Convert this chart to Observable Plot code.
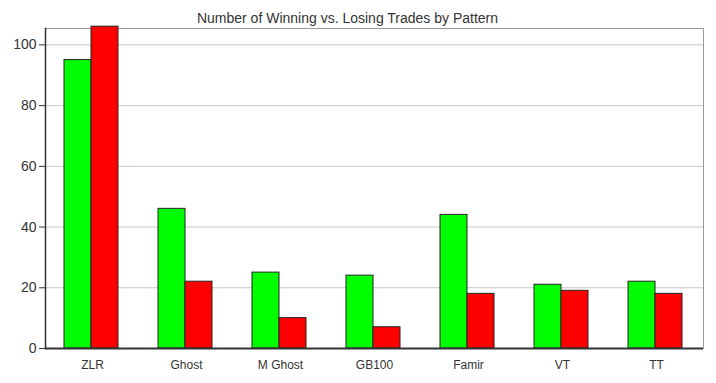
<!DOCTYPE html>
<html><head><meta charset="utf-8">
<script src="https://cdn.jsdelivr.net/npm/d3@7"></script>
<script src="https://cdn.jsdelivr.net/npm/@observablehq/plot@0.6"></script>
<style>body{margin:0;background:#fff;} svg{display:block;}</style>
</head><body>
<div id="chart"></div>
<script>
const title = "Number of Winning vs. Losing Trades by Pattern";
const categories = ["ZLR", "Ghost", "M Ghost", "GB100", "Famir", "VT", "TT"];
const winning = [95, 46, 25, 24, 44, 21, 22];
const losing = [106, 22, 10, 7, 18, 19, 18];
const yTicks = [0, 20, 40, 60, 80, 100];

const winData = categories.map((c, i) => ({pattern: c, value: winning[i]}));
const loseData = categories.map((c, i) => ({pattern: c, value: losing[i]}));

const chart = Plot.plot({
  width: 716, height: 383,
  marginTop: 28, marginBottom: 35, marginLeft: 45, marginRight: 13,
  style: {fontFamily: "'Liberation Sans', Arial, sans-serif", background: "#fff", color: "#333"},
  x: {domain: categories, padding: 0, label: null},
  y: {domain: [0, 105.4], label: null},
  marks: [
    Plot.gridY(yTicks.filter(d => d > 0), {stroke: "#c8c8c8", strokeOpacity: 1}),
    Plot.frame({stroke: "#999"}),
    Plot.barY(winData, {x: "pattern", y: "value", fill: "#00ff00", stroke: "#222", strokeWidth: 1, insetLeft: 19, insetRight: 48}),
    Plot.barY(loseData, {x: "pattern", y: "value", fill: "#ff0000", stroke: "#222", strokeWidth: 1, insetLeft: 46, insetRight: 21}),
    Plot.frame({anchor: "left", stroke: "#333", strokeWidth: 1.5}),
    Plot.ruleY([0], {stroke: "#333", strokeWidth: 2}),
    Plot.axisY({ticks: yTicks, tickSize: 6, tickPadding: 3, fontSize: 14, stroke: "#333", label: null}),
    Plot.axisX({tickSize: 0, tickPadding: 12, fontSize: 12, label: null}),
    Plot.text([title], {frameAnchor: "top", dy: -15, dx: -27, fontSize: 14, fill: "#333"})
  ]
});
document.getElementById("chart").appendChild(chart);
</script>
</body></html>
